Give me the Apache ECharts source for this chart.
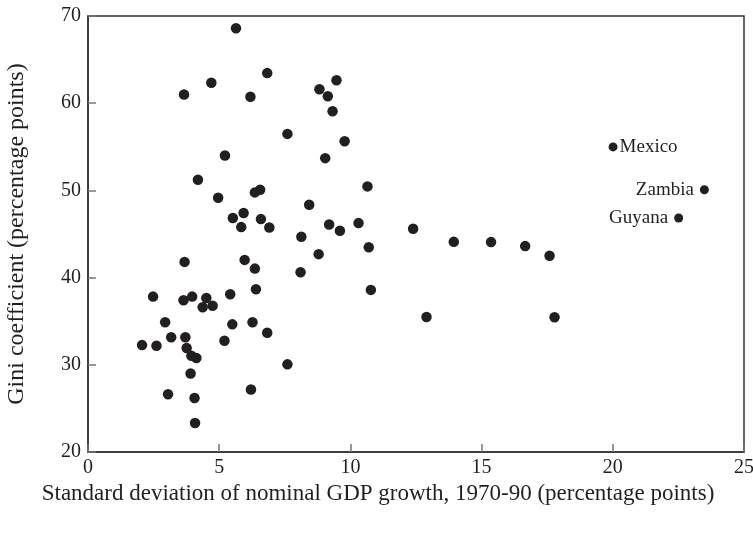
<!DOCTYPE html>
<html>
<head>
<meta charset="utf-8">
<script src="https://cdn.jsdelivr.net/npm/echarts@6/dist/echarts.min.js"></script>
<style>html,body{margin:0;padding:0;background:#fff}#c{width:753px;height:533px}</style>
</head>
<body>
<div id="c"></div>
<script>
// Standard deviation of nominal GDP growth (x) and Gini coefficient (y)
const sdGrowth = [5.64,6.83,4.70,3.66,6.19,5.22,9.47,8.82,9.14,9.32,7.60,9.78,9.04,4.19,6.56,6.36,4.96,5.93,5.52,6.59,5.84,6.91,3.68,5.97,6.36,2.48,3.64,3.97,4.51,5.42,6.40,10.65,8.43,9.19,9.60,10.31,12.39,13.94,8.13,10.70,8.79,8.10,10.78,15.36,16.66,17.59,17.78,4.37,4.75,2.94,5.50,6.27,6.83,3.17,3.71,2.06,2.61,5.20,3.76,3.94,4.13,3.91,6.21,3.05,4.06,4.08,12.9,7.60];
const gini = [68.6,63.45,62.35,61.0,60.74,54.0,62.64,61.6,60.8,59.08,56.48,55.63,53.7,51.23,50.08,49.77,49.16,47.40,46.83,46.71,45.79,45.75,41.8,42.03,41.03,37.82,37.4,37.82,37.67,38.09,38.67,50.46,48.36,46.09,45.37,46.25,45.6,44.1,44.68,43.49,42.69,40.62,38.59,44.07,43.61,42.5,35.45,36.6,36.78,34.87,34.64,34.87,33.68,33.15,33.15,32.26,32.18,32.76,31.92,31.04,30.77,29.01,27.17,26.63,26.2,23.33,35.48,30.05];
const namedCountries = ['Mexico','Zambia','Guyana'];
const namedX = [20.01,23.49,22.51];
const namedY = [54.99,50.08,46.83];
const xTicks = [0,5,10,15,20,25];
const yTicks = [20,30,40,50,60,70];

const font = '"Liberation Serif","Times New Roman",serif';
const ink = '#231f20';
const chart = echarts.init(document.getElementById('c'), null, {renderer:'canvas'});
const pts = sdGrowth.map((x,i)=>[x,gini[i]]);
const labelPos = ['right','left','left'];
const named = namedX.map((x,i)=>({value:[x,namedY[i]], name:namedCountries[i],
  label:{show:true, position:labelPos[i], formatter:'{b}', distance: i===0?2:6,
    color:ink, fontFamily:font, fontSize:19}}));
chart.setOption({
  animation:false,
  grid:{left:88,right:9,top:16,bottom:81,show:true,borderColor:'#333',borderWidth:1.5,
    containLabel:false,outerBoundsMode:'none'},
  xAxis:{type:'value',min:0,max:25,interval:5,
    name:'Standard deviation of nominal GDP growth, 1970-90 (percentage points)',
    nameLocation:'middle',nameGap:29,
    nameTextStyle:{fontFamily:font,fontSize:23,color:ink,padding:[0,76,0,0]},
    axisLine:{show:true,lineStyle:{color:'#333',width:1.5}},
    axisTick:{show:true,inside:true,length:8,lineStyle:{color:'#777',width:1.5}},
    axisLabel:{fontFamily:font,fontSize:20,color:ink,margin:6,
      formatter:v=>xTicks.includes(v)?String(v):''},
    splitLine:{show:false}},
  yAxis:{type:'value',min:20,max:70,interval:10,
    name:'Gini coefficient (percentage points)',
    nameLocation:'middle',nameGap:59,
    nameTextStyle:{fontFamily:font,fontSize:24,color:ink},
    axisLine:{show:true,lineStyle:{color:'#333',width:1.5}},
    axisTick:{show:true,inside:true,length:8,lineStyle:{color:'#777',width:1.5}},
    axisLabel:{fontFamily:font,fontSize:20,color:ink,margin:7,
      formatter:v=>yTicks.includes(v)?String(v):''},
    splitLine:{show:false}},
  series:[
    {type:'scatter',data:pts,symbolSize:10.5,itemStyle:{color:ink,opacity:1}},
    {type:'scatter',data:named,symbolSize:9,itemStyle:{color:ink,opacity:1}}
  ]
});
</script>
</body>
</html>
